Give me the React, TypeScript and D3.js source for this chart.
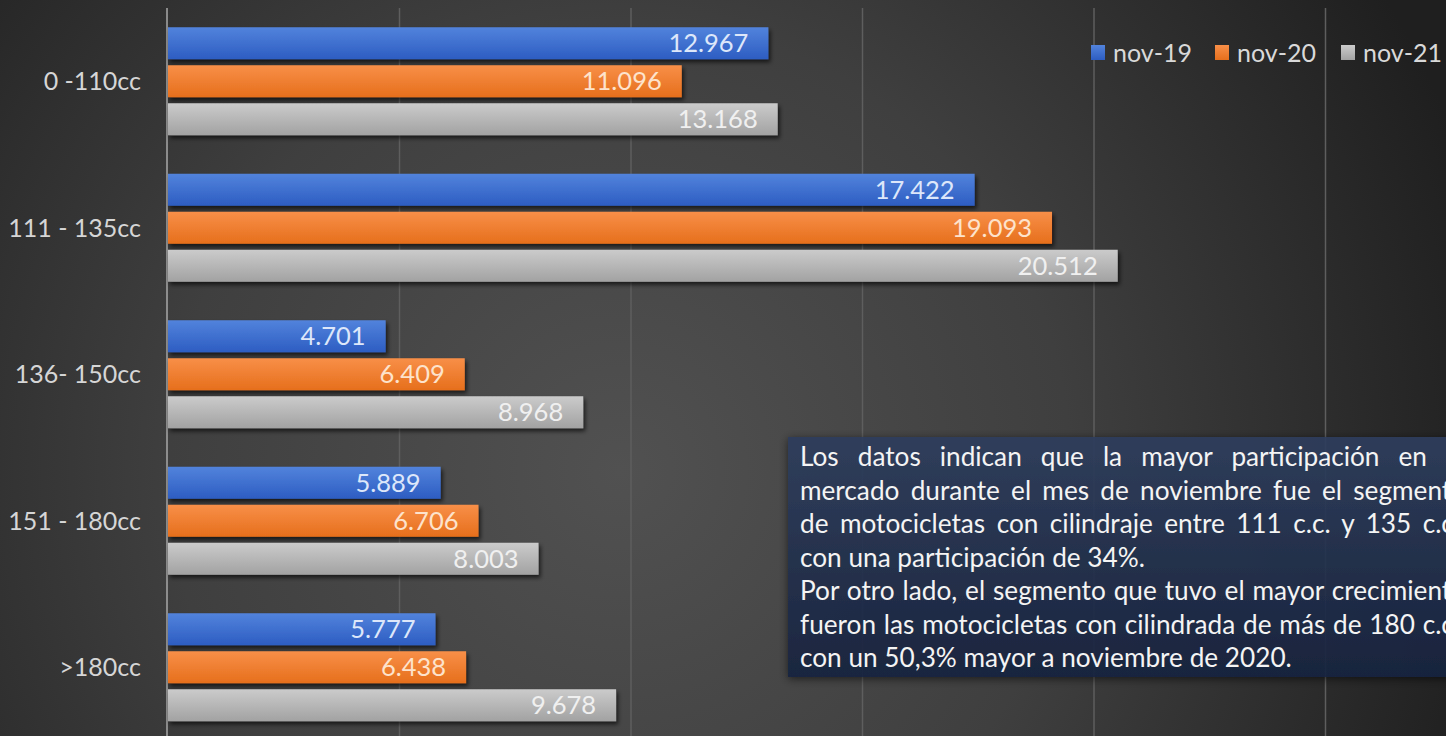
import React, { useLayoutEffect, useRef, useState } from "react";
import * as d3 from "d3";

const categories = ["0 -110cc", "111 - 135cc", "136- 150cc", "151 - 180cc", ">180cc"];
const seriesNames = ["nov-19", "nov-20", "nov-21"];
const nov19 = [12967, 17422, 4701, 5889, 5777];
const nov20 = [11096, 19093, 6409, 6706, 6438];
const nov21 = [13168, 20512, 8968, 8003, 9678];
const xTicks = [0, 5000, 10000, 15000, 20000, 25000];
const noteLines = [
  "Los datos indican que la mayor participación en el",
  "mercado durante el mes de noviembre fue el segmento",
  "de motocicletas con cilindraje entre 111 c.c. y 135 c.c.,",
  "con una participación de 34%.",
  "Por otro lado, el segmento que tuvo el mayor crecimiento",
  "fueron las motocicletas con cilindrada de más de 180 c.c.,",
  "con un 50,3% mayor a noviembre de 2020.",
];
const noteJustify = [true, true, true, false, true, true, false];

const W = 1446;
const H = 736;
const FONT = "Lato, 'Open Sans', sans-serif";

const colors = [
  { top: "#5283dc", bot: "#2d5dc2" },
  { top: "#f88f48", bot: "#e66f1c" },
  { top: "#cbcbcb", bot: "#a2a2a2" },
];
const labelFill = ["#dde7fa", "#fde3cc", "#f0f0f0"];

const locale = d3.formatLocale({ decimal: ",", thousands: ".", grouping: [3], currency: ["", ""] });
const fmt = locale.format(",d");

export default function App() {
  const values = [nov19, nov20, nov21];
  const x = d3.scaleLinear().domain([0, 30000]).range([168, 168 + 6 * 231.5]);
  const y = d3.scaleBand<string>().domain(categories).range([8.75, 741.25]).padding(0);
  const inner = d3
    .scaleBand<string>()
    .domain(seriesNames)
    .range([72.5 - 57, 72.5 + 57])
    .paddingInner(0.158)
    .paddingOuter(0.079);

  const lineRefs = useRef<(SVGTextElement | null)[]>([]);
  const [spacing, setSpacing] = useState<number[]>(noteLines.map(() => 0));
  const noteX = 800;
  const noteR = 1466;

  useLayoutEffect(() => {
    document.body.style.margin = "0";
    const ws = noteLines.map((line, i) => {
      const el = lineRefs.current[i];
      if (!el || !noteJustify[i]) return 0;
      const natural = el.getComputedTextLength();
      const spaces = line.split(" ").length - 1;
      return Math.max(0, (noteR - noteX - natural) / spaces);
    });
    setSpacing(ws);
  }, []);

  return (
    <svg width={W} height={H} style={{ display: "block" }} fontFamily={FONT}>
      <defs>
        <radialGradient id="bg" gradientUnits="userSpaceOnUse" cx={620} cy={470} r={900}>
          <stop offset="0" stopColor="#515151" />
          <stop offset="0.5" stopColor="#3f3f3f" />
          <stop offset="1" stopColor="#1f1f1f" />
        </radialGradient>
        {colors.map((c, i) => (
          <linearGradient key={i} id={`bar${i}`} x1="0" y1="0" x2="0" y2="1">
            <stop offset="0" stopColor={c.top} />
            <stop offset="1" stopColor={c.bot} />
          </linearGradient>
        ))}
        <linearGradient id="note" x1="0" y1="0" x2="0" y2="1">
          <stop offset="0" stopColor="#2f3e5d" />
          <stop offset="1" stopColor="#18243f" />
        </linearGradient>
        <filter id="shadow" x="-5%" y="-30%" width="110%" height="170%">
          <feDropShadow dx="2" dy="3" stdDeviation="2" floodColor="#000" floodOpacity="0.65" />
        </filter>
        <filter id="boxshadow" x="-5%" y="-10%" width="110%" height="125%">
          <feDropShadow dx="0" dy="2" stdDeviation="4" floodColor="#000" floodOpacity="0.6" />
        </filter>
      </defs>
      <rect x={0} y={0} width={W} height={H} fill="url(#bg)" />

      {xTicks.slice(1).map((t) => (
        <line key={t} x1={x(t)} x2={x(t)} y1={8} y2={H} stroke="#5e5e5e" strokeWidth={1.5} />
      ))}
      <line x1={x(0) - 1} x2={x(0) - 1} y1={8} y2={H} stroke="#a8a8a8" strokeWidth={1.5} />

      {categories.map((cat, ci) => {
        const y0 = y(cat)!;
        return (
          <g key={cat}>
            <text
              x={141}
              y={y0 + 72.5}
              dy="0.35em"
              textAnchor="end"
              fontSize={25}
              fill="#d6d6d6"
            >
              {cat}
            </text>
            {seriesNames.map((s, si) => {
              const v = values[si][ci];
              const by = y0 + inner(s)!;
              const bh = inner.bandwidth();
              return (
                <g key={s}>
                  <rect
                    x={x(0)}
                    y={by}
                    width={x(v) - x(0)}
                    height={bh}
                    fill={`url(#bar${si})`}
                    filter="url(#shadow)"
                  />
                  <text
                    x={x(v) - 20}
                    y={by + bh / 2}
                    dy="0.36em"
                    textAnchor="end"
                    fontSize={25.5}
                    fill={labelFill[si]}
                  >
                    {fmt(v)}
                  </text>
                </g>
              );
            })}
          </g>
        );
      })}

      {/* legend */}
      {seriesNames.map((s, si) => {
        const lx = [1091, 1215, 1341][si];
        return (
          <g key={s}>
            <rect x={lx} y={45} width={14} height={15} fill={`url(#bar${si})`} />
            <text x={lx + 22} y={53} dy="0.35em" fontSize={25} fill="#d9d9d9">
              {s}
            </text>
          </g>
        );
      })}

      {/* note box */}
      <rect x={788} y={437} width={700} height={240} fill="url(#note)" opacity={0.93} filter="url(#boxshadow)" />
      {noteLines.map((line, i) => (
        <text
          key={i}
          ref={(el) => {
            lineRefs.current[i] = el;
          }}
          x={noteX}
          y={466 + i * 33.5}
          fontSize={26.2}
          fill="#f4f4f4"
          style={{ wordSpacing: `${spacing[i]}px` }}
        >
          {line}
        </text>
      ))}
    </svg>
  );
}
